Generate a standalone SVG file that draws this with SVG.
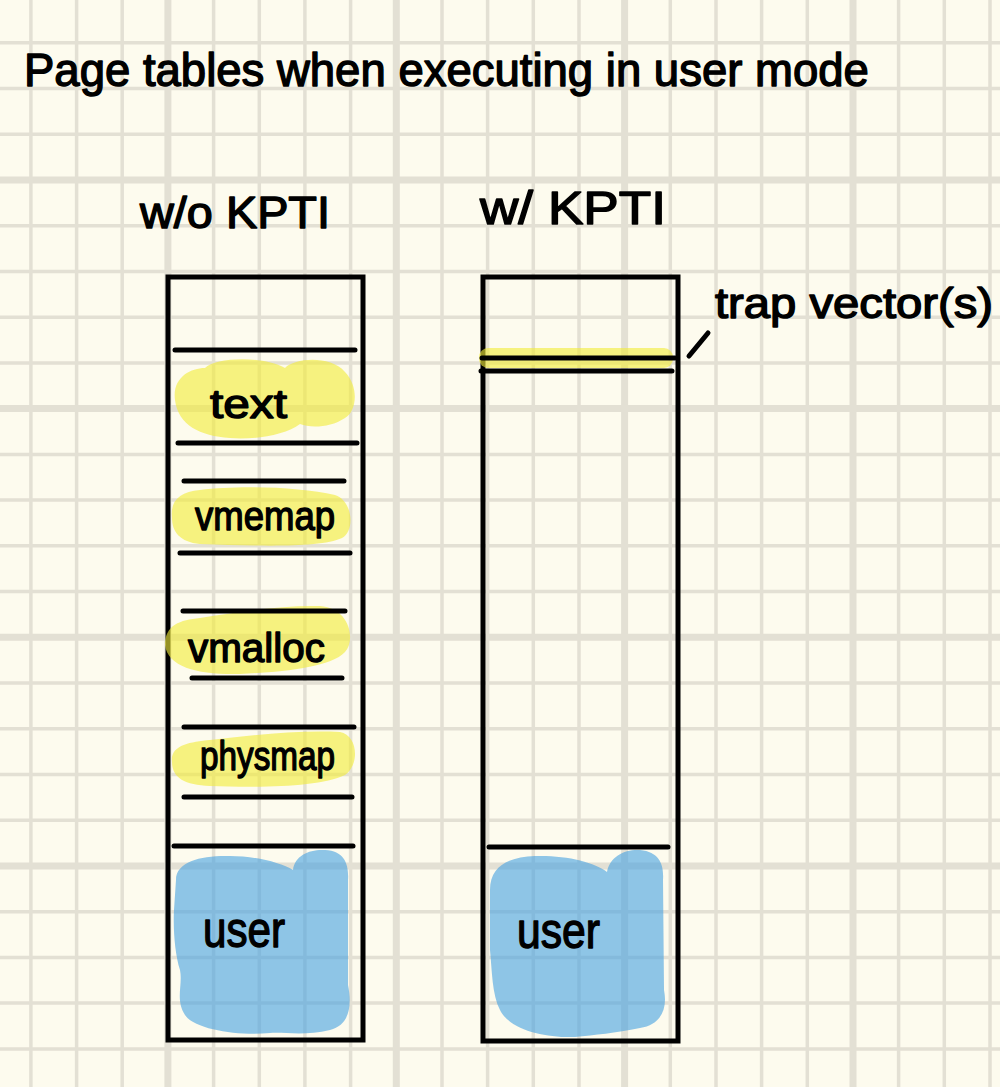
<svg xmlns="http://www.w3.org/2000/svg" width="1000" height="1087" viewBox="0 0 1000 1087">
<style>
.g1{stroke:#e3e0d4;stroke-width:3.5;fill:none}
.g2{stroke:#e3e0d4;stroke-width:7;fill:none}
.ink{stroke:#000;stroke-width:5;stroke-linecap:round;fill:none}
.box{stroke:#000;stroke-width:5;fill:none;stroke-linejoin:miter}
.yl{fill:#f2ec3a;opacity:0.62}
.bl{fill:#4aa3e0;opacity:0.62}
.t{font-family:"Liberation Sans","DejaVu Sans",sans-serif;fill:#000;stroke:#000;stroke-width:1.4;stroke-linejoin:round}
</style>
<rect width="1000" height="1087" fill="#fdfbee"/>
<g id="grid">
<path class="g1" d="M30.9 0V1087M76.6 0V1087M122.2 0V1087M213.6 0V1087M259.3 0V1087M304.9 0V1087M350.6 0V1087M442 0V1087M487.6 0V1087M533.3 0V1087M579 0V1087M670.3 0V1087M716 0V1087M761.6 0V1087M807.3 0V1087M898.6 0V1087M944.3 0V1087M990 0V1087"/>
<path class="g1" d="M0 42.8H1000M0 88.5H1000M0 134.3H1000M0 225.7H1000M0 271.5H1000M0 317.2H1000M0 362.9H1000M0 454.4H1000M0 500.1H1000M0 545.8H1000M0 591.6H1000M0 683H1000M0 728.8H1000M0 774.5H1000M0 820.2H1000M0 911.7H1000M0 957.4H1000M0 1003.1H1000M0 1048.9H1000"/>
<path class="g2" d="M167.9 0V1087M396.3 0V1087M624.6 0V1087M853 0V1087M0 180H1000M0 408.6H1000M0 637.3H1000M0 865.9H1000"/>
</g>
<g id="title">
<text class="t" x="24" y="86" font-size="45.5">Page tables when executing in user mode</text>
</g>
<g id="heading-left">
<text class="t" x="140" y="228" font-size="44" textLength="190" lengthAdjust="spacingAndGlyphs">w/o KPTI</text>
</g>
<g id="heading-right">
<text class="t" x="480" y="224" font-size="46" textLength="186" lengthAdjust="spacingAndGlyphs">w/ KPTI</text>
</g>
<g id="table-left">
<rect class="box" x="168" y="277" width="195" height="763"/>
</g>
<g id="left-text">
<path class="yl" d="M175 400C172 378 190 368 205 368C215 358 260 355 285 368C295 358 330 355 345 372C360 388 356 412 345 418C330 428 310 428 300 424C285 436 250 440 230 438C200 436 178 425 175 400Z"/>
<path class="ink" d="M175 350H355M178 443H357"/>
<text class="t" x="210" y="418" font-size="40" textLength="77" lengthAdjust="spacingAndGlyphs">text</text>
</g>
<g id="left-vmemap">
<path class="yl" d="M172 518C170 500 180 492 200 490C240 485 300 487 335 495C352 500 356 530 342 538C320 548 260 546 200 544C180 542 172 532 172 518Z"/>
<path class="ink" d="M184 481H344M180 553H350"/>
<text class="t" x="195" y="530" font-size="40" textLength="140" lengthAdjust="spacingAndGlyphs">vmemap</text>
</g>
<g id="left-vmalloc">
<path class="yl" d="M165 645C165 625 180 620 200 618C240 612 280 605 320 606C350 608 356 640 345 652C330 668 280 672 240 674C200 675 168 668 165 645Z"/>
<path class="ink" d="M183 611H345M192 678H342"/>
<text class="t" x="188" y="662" font-size="40" textLength="137" lengthAdjust="spacingAndGlyphs">vmalloc</text>
</g>
<g id="left-physmap">
<path class="yl" d="M172 762C170 745 190 742 210 740C250 735 300 730 340 732C358 735 360 765 345 775C320 787 260 788 210 786C185 785 172 778 172 762Z"/>
<path class="ink" d="M184 727H354M184 797H352"/>
<text class="t" x="200" y="770" font-size="40" textLength="135" lengthAdjust="spacingAndGlyphs">physmap</text>
</g>
<g id="left-user">
<path class="bl" d="M176 880C176 862 200 856 225 856C250 855 280 862 293 870C295 855 310 849 325 850C345 851 349 865 348 880L348 985C352 1005 350 1025 330 1030C305 1036 285 1032 270 1033C240 1036 195 1030 185 1015C175 1000 183 985 180 970C175 955 173 930 174 910Z"/>
<path class="ink" d="M174 846H353"/>
<text class="t" x="203" y="947" font-size="50" textLength="82" lengthAdjust="spacingAndGlyphs">user</text>
</g>
<g id="table-right">
<rect class="box" x="483" y="277" width="195" height="764"/>
</g>
<g id="right-trap">
<rect class="yl" x="479" y="348" width="194" height="20" rx="9"/>
<path class="ink" d="M482 358H675M481 371H672"/>
</g>
<g id="right-user">
<path class="bl" d="M490 890C490 865 510 857 535 856C565 855 595 862 607 872C610 856 625 849 640 850C660 852 664 865 663 880L664 990C668 1010 660 1025 640 1028C615 1033 595 1035 575 1037C545 1038 510 1030 500 1010C492 995 492 970 490 950Z"/>
<path class="ink" d="M489 847H668"/>
<text class="t" x="517" y="948" font-size="50" textLength="83" lengthAdjust="spacingAndGlyphs">user</text>
</g>
<g id="label-trap">
<text class="t" x="715" y="318" font-size="42" textLength="278" lengthAdjust="spacingAndGlyphs">trap vector(s)</text>
</g>
<g id="connectors">
<path class="ink" d="M689 356L708 333"/>
</g>
</svg>
